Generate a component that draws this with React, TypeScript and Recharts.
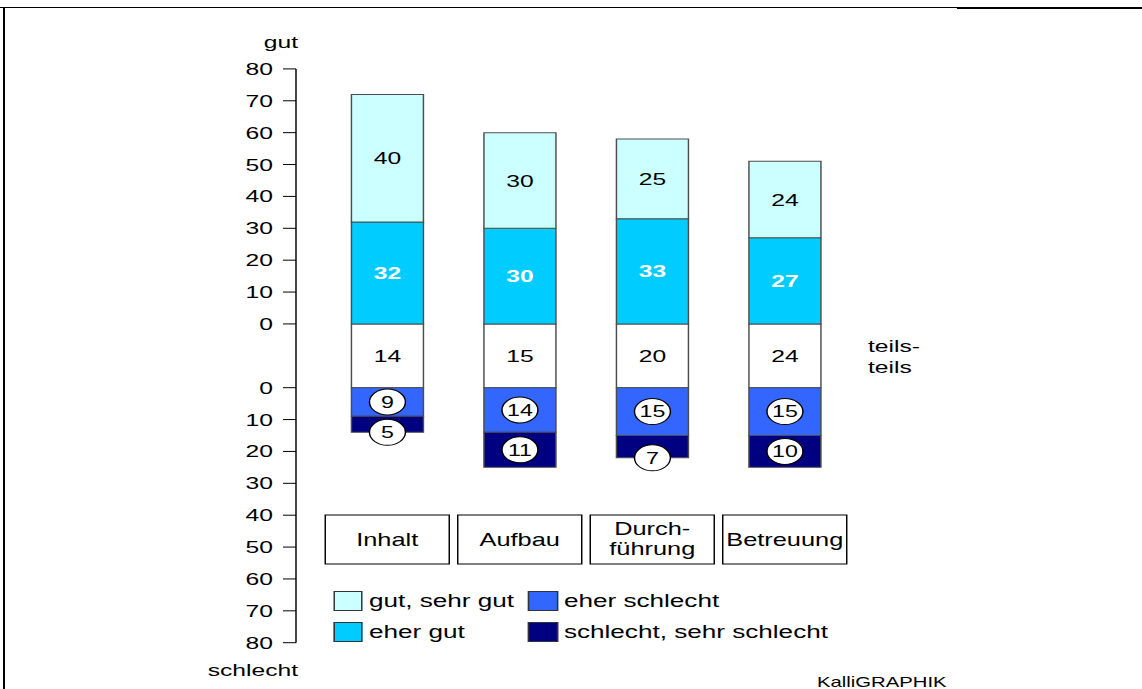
import React from 'react';
import { BarChart, Bar, XAxis, YAxis, LabelList, Legend } from 'recharts';

// the source image is stretched sideways, so the chart is drawn narrow and scaled in x
const S = 1.45;
const W = 1142 / S;
const H = 689;
const FONT = "'Liberation Sans', Arial, Helvetica, sans-serif";

const categories = ['Inhalt', 'Aufbau', 'Durch-\nführung', 'Betreuung'];
const gut = [40, 30, 25, 24];
const eherGut = [32, 30, 33, 27];
const teilsTeils = [14, 15, 20, 24];
const eherSchlecht = [9, 14, 15, 15];
const schlecht = [5, 11, 7, 10];

// teils-teils is drawn as a fixed-height band between the two zero lines
const BAND = 20;
const upperTicks = [0, 10, 20, 30, 40, 50, 60, 70, 80];
const lowerTicks = [0, 10, 20, 30, 40, 50, 60, 70, 80];

const colors = {
  gut: '#CCFFFF',
  eherGut: '#00CCFF',
  eherSchlecht: '#3366FF',
  schlecht: '#000080',
  band: '#FFFFFF',
};

const legendItems = [
  { label: 'gut, sehr gut', color: colors.gut, col: 0, row: 0 },
  { label: 'eher gut', color: colors.eherGut, col: 0, row: 1 },
  { label: 'eher schlecht', color: colors.eherSchlecht, col: 1, row: 0 },
  { label: 'schlecht, sehr schlecht', color: colors.schlecht, col: 1, row: 1 },
];

const data = categories.map((name, i) => ({
  name,
  band: -BAND,
  eherGut: eherGut[i],
  gut: gut[i],
  eherSchlecht: -eherSchlecht[i],
  schlecht: -schlecht[i],
}));

const yTicks = [...upperTicks, ...lowerTicks.map((v) => -(v + BAND))];
const yFormat = (v: number) => String(v >= 0 ? v : -(v + BAND));

const PLOT_BOTTOM = 642.7;

const centerLabel = (fill: string, weight: string, values: number[]) => (p: any) => {
  const { x, y, width, height, index } = p;
  return (
    <text
      x={x + width / 2}
      y={y + height / 2}
      dy="0.36em"
      textAnchor="middle"
      fill={fill}
      fontWeight={weight}
      fontSize={17}
      fontFamily={FONT}
    >
      {values[index]}
    </text>
  );
};

const badgeLabel = (values: number[]) => (p: any) => {
  const { x, y, width, height, index } = p;
  const top = Math.min(y, y + height);
  const bottom = Math.max(y, y + height);
  const rx = 12.4;
  const ry = 13;
  const cy = bottom - top < 2 * ry ? bottom : (top + bottom) / 2;
  const cx = x + width / 2;
  return (
    <g>
      <ellipse cx={cx} cy={cy} rx={rx} ry={ry} fill="#fff" stroke="#000" strokeWidth={1} />
      <text x={cx} y={cy} dy="0.36em" textAnchor="middle" fontSize={16} fontFamily={FONT} fill="#000">
        {values[index]}
      </text>
    </g>
  );
};

const CategoryBox = (p: any) => {
  const { x, payload } = p;
  const lines = String(payload.value).split('\n');
  const bw = 124 / S;
  const top = 515;
  const bh = 49;
  return (
    <g>
      <rect x={x - bw / 2} y={top} width={bw} height={bh} fill="#fff" stroke="#000" strokeWidth={1} />
      {lines.length === 1 ? (
        <text x={x} y={top + 31} textAnchor="middle" fontSize={17.5} fontFamily={FONT} fill="#000">
          {lines[0]}
        </text>
      ) : (
        lines.map((l, i) => (
          <text key={i} x={x} y={top + 20 + i * 20} textAnchor="middle" fontSize={17.5} fontFamily={FONT} fill="#000">
            {l}
          </text>
        ))
      )}
    </g>
  );
};

const LegendGrid = () => (
  <div style={{ position: 'relative', width: 420, height: 52, fontFamily: FONT, fontSize: 18, color: '#000' }}>
    {legendItems.map((it) => (
      <div
        key={it.label}
        style={{ position: 'absolute', left: it.col * 134.5, top: it.row * 31, display: 'flex', alignItems: 'center', height: 20 }}
      >
        <span style={{ width: 20.7, height: 20, boxSizing: 'border-box', border: '1px solid #333', background: it.color }} />
        <span style={{ marginLeft: 4.1, lineHeight: '20px', whiteSpace: 'nowrap' }}>{it.label}</span>
      </div>
    ))}
  </div>
);

export default function App() {
  const stroke = '#4d4d4d';
  return (
    <div style={{ position: 'absolute', left: 0, top: 0, width: 1142, height: H, overflow: 'hidden', background: '#fff' }}>
      <div style={{ position: 'absolute', left: 0, top: 7, width: 957, height: 1, background: '#000' }} />
      <div style={{ position: 'absolute', left: 957, top: 7, width: 185, height: 2, background: '#000' }} />
      <div style={{ position: 'absolute', left: 3, top: 7, width: 2, height: H - 7, background: '#000' }} />
      <div style={{ position: 'absolute', left: 0, top: 0, width: W, height: H, transform: `scaleX(${S})`, transformOrigin: '0 0' }}>
        <BarChart
          width={W}
          height={H}
          data={data}
          stackOffset="sign"
          margin={{ top: 68.9, right: W - 851 / S, bottom: H - PLOT_BOTTOM - 20, left: 0 }}
        >
          <XAxis
            dataKey="name"
            height={20}
            axisLine={false}
            tickLine={false}
            interval={0}
            padding={{ left: 25 / S, right: 0 }}
            tick={(p: any) => <CategoryBox {...p} />}
          />
          <YAxis
            type="number"
            domain={[-100, 80]}
            ticks={yTicks}
            interval={0}
            width={296 / S}
            tickFormatter={yFormat}
            tickSize={13 / S}
            tickMargin={10 / S}
            axisLine={{ stroke: '#000' }}
            tickLine={{ stroke: '#000' }}
            tick={{ fill: '#000', fontSize: 17, fontFamily: FONT }}
          />
          <Legend
            layout="horizontal"
            verticalAlign="middle"
            align="center"
            content={() => <LegendGrid />}
            wrapperStyle={{ left: 333 / S, top: 591, width: 420, height: 52 }}
          />
          <Bar dataKey="band" stackId="a" fill={colors.band} stroke={stroke} barSize={72 / S} isAnimationActive={false} legendType="none">
            <LabelList dataKey="band" content={centerLabel('#000', 'normal', teilsTeils)} />
          </Bar>
          <Bar dataKey="eherGut" stackId="a" fill={colors.eherGut} stroke={stroke} barSize={72 / S} isAnimationActive={false}>
            <LabelList dataKey="eherGut" content={centerLabel('#fff', 'bold', eherGut)} />
          </Bar>
          <Bar dataKey="gut" stackId="a" fill={colors.gut} stroke={stroke} barSize={72 / S} isAnimationActive={false}>
            <LabelList dataKey="gut" content={centerLabel('#000', 'normal', gut)} />
          </Bar>
          <Bar dataKey="eherSchlecht" stackId="a" fill={colors.eherSchlecht} stroke={stroke} barSize={72 / S} isAnimationActive={false}>
            <LabelList dataKey="eherSchlecht" content={badgeLabel(eherSchlecht)} />
          </Bar>
          <Bar dataKey="schlecht" stackId="a" fill={colors.schlecht} stroke={stroke} barSize={72 / S} isAnimationActive={false}>
            <LabelList dataKey="schlecht" content={badgeLabel(schlecht)} />
          </Bar>
        </BarChart>
        <svg
          width={W}
          height={H}
          style={{ position: 'absolute', left: 0, top: 0, pointerEvents: 'none' }}
          fontFamily={FONT}
        >
          <text x={298 / S} y={48} textAnchor="end" fontSize={17} fill="#000">gut</text>
          <text x={298 / S} y={676} textAnchor="end" fontSize={17} fill="#000">schlecht</text>
          <text x={868 / S} y={352} fontSize={17} fill="#000">teils-</text>
          <text x={868 / S} y={373} fontSize={17} fill="#000">teils</text>
          <text x={817 / S} y={687} fontSize={14} fill="#000">KalliGRAPHIK</text>
        </svg>
      </div>
    </div>
  );
}
